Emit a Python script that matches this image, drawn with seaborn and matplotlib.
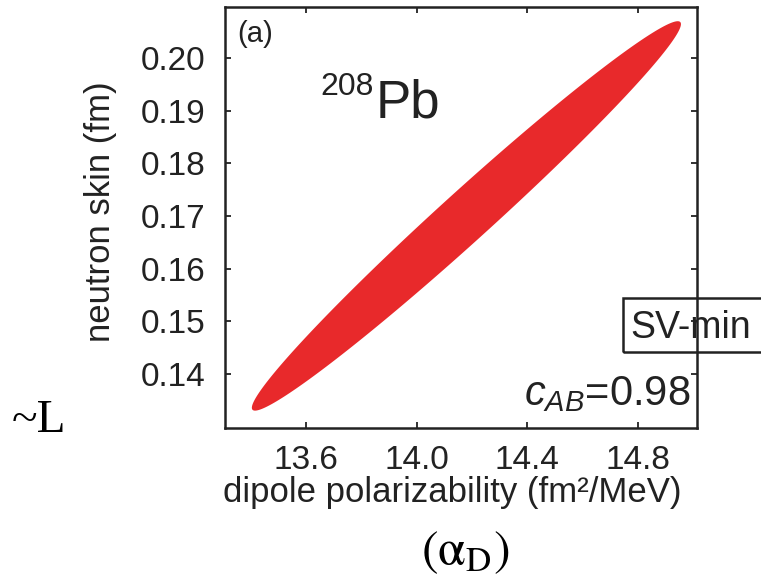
import numpy as np
import matplotlib
matplotlib.use("Agg")
import matplotlib.pyplot as plt
import seaborn as sns
from matplotlib.patches import Rectangle

# ---- data ----
ellipse_center = [14.18, 0.170]          # (alpha_D, neutron skin)
ellipse_half_extent = [0.775, 0.0370]    # half ranges in x and y
ellipse_corr = 0.985                     # shape of drawn ellipse
c_ab_value = 0.98
x_ticks = [13.6, 14.0, 14.4, 14.8]
x_ticklabels = ["13.6", "14.0", "14.4", "14.8"]
y_ticks = [0.14, 0.15, 0.16, 0.17, 0.18, 0.19, 0.20]
y_ticklabels = ["0.14", "0.15", "0.16", "0.17", "0.18", "0.19", "0.20"]
x_lim = [13.308, 15.013]
y_lim = [0.1297, 0.2097]

sns.set_theme(style="ticks")
plt.rcParams["font.family"] = ["Liberation Sans", "DejaVu Sans"]
plt.rcParams["mathtext.fontset"] = "custom"
plt.rcParams["mathtext.rm"] = "Liberation Sans"
plt.rcParams["mathtext.it"] = "Liberation Sans:italic"

W, H = 761, 578
fig = plt.figure(figsize=(W / 100, H / 100), dpi=100)
ax = fig.add_axes([225 / W, 1 - 428 / H, (697 - 225) / W, (428 - 7) / H])

# ellipse boundary from center, extents and correlation
t = np.linspace(0, 2 * np.pi, 400)
r = ellipse_corr
ex = ellipse_center[0] + ellipse_half_extent[0] * np.cos(t)
ey = ellipse_center[1] + ellipse_half_extent[1] * (r * np.cos(t) + np.sqrt(1 - r ** 2) * np.sin(t))
ax.fill(ex, ey, color="#e8292b", lw=0)

ax.set_xlim(x_lim)
ax.set_ylim(y_lim)
ax.set_xticks(x_ticks)
ax.set_xticklabels(x_ticklabels)
ax.set_yticks(y_ticks)
ax.set_yticklabels(y_ticklabels)
ax.tick_params(direction="in", length=4, width=1.3, top=True, right=True,
               colors="#222222", labelcolor="#222222")
ax.tick_params(axis="x", labelsize=24, pad=12)
ax.tick_params(axis="y", labelsize=24, pad=14)
for s in ax.spines.values():
    s.set_linewidth(1.8)
    s.set_color("#222222")

ax.set_xlabel("dipole polarizability (fm\u00b2/MeV)", fontsize=25, color="#222222")
ax.set_ylabel("neutron skin (fm)", fontsize=25, color="#222222")
ax.xaxis.set_label_coords(0.481, -0.115)
ax.yaxis.set_label_coords(-0.228, 0.513)

# in-axes annotations
ax.text(0.026, 0.935, "(a)", transform=ax.transAxes, fontsize=21,
        color="#222222", ha="left", va="center")
fig.text(320 / W, 1 - 95 / H, "208", fontsize=23, color="#222222", ha="left", va="baseline")
fig.text(376 / W, 1 - 117 / H, "Pb", fontsize=38, color="#222222", ha="left", va="baseline")
fig.text(690 / W, 1 - 405 / H, "$c_{AB}$=%.2f" % c_ab_value, fontsize=30,
         color="#222222", ha="right", va="baseline")

# SV-min box (clipped at right figure edge)
fig.add_artist(Rectangle((623 / W, 1 - 352 / H), 150 / W, 54 / H, transform=fig.transFigure,
                         fill=False, lw=1.8, edgecolor="#222222", clip_on=False))
fig.text(630 / W, 1 - 338 / H, "SV-min", fontsize=27, color="#222222", ha="left", va="baseline")

# outer annotations
fig.text(12 / W, 1 - 432 / H, "~L", fontsize=34, family=["Liberation Serif", "DejaVu Serif"],
         color="black", ha="left", va="baseline")
fig.text(465 / W, 1 - 553 / H, "$(\\mathrm{\u03b1}_{\\mathrm{D}})$", fontsize=36,
         math_fontfamily="stix", color="black", ha="center", va="center")

fig.savefig("out.png", dpi=100)
